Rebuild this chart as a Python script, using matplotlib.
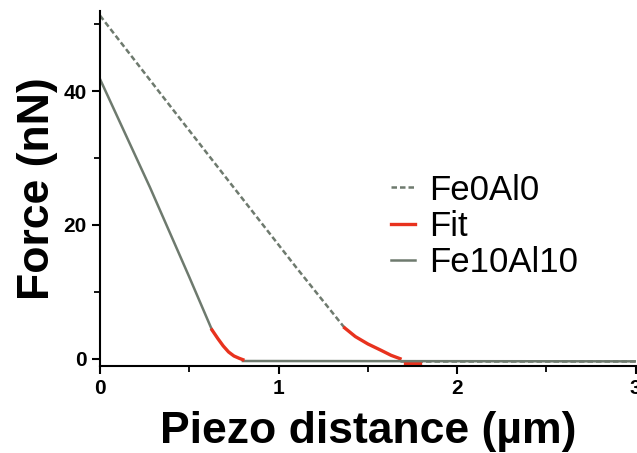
import matplotlib
matplotlib.use('Agg')
import matplotlib.pyplot as plt
from matplotlib.ticker import MultipleLocator

# Fe0Al0 approach curve (dashed), before contact fit
fe0_x = [0.0, 0.36, 0.728, 1.10, 1.37]
fe0_y = [51.3, 38.9, 26.3, 13.6, 4.6]
fe0_base_x = [1.68, 3.0]
fe0_base_y = [-0.4, -0.4]

# Fe10Al10 approach curve (solid)
fe10_x = [0.0, 0.28, 0.50, 0.627]
fe10_y = [41.8, 25.6, 12.2, 4.3]
fe10_base_x = [0.80, 3.0]
fe10_base_y = [-0.35, -0.4]

# Hertz fits
fit0_x = [1.37, 1.43, 1.50, 1.57, 1.63, 1.68]
fit0_y = [4.6, 3.3, 2.2, 1.3, 0.5, 0.0]
fit0_tail_x = [1.71, 1.79]
fit0_tail_y = [-0.7, -0.7]
fit10_x = [0.627, 0.66, 0.69, 0.72, 0.75, 0.78, 0.80]
fit10_y = [4.3, 3.0, 1.9, 1.0, 0.4, 0.05, -0.15]

grey = '#6e7a6e'
red = '#e8321e'

def main():
  plt.rcParams['font.family'] = ['Liberation Sans', 'DejaVu Sans']
  fig = plt.figure(figsize=(6.37, 4.53), dpi=100)
  ax = fig.add_axes([0.157, 0.192, 0.841, 0.784])

  dash = (0, (2.2, 1.2))
  ax.plot(fe0_x, fe0_y, color=grey, lw=1.8, ls=dash, label='Fe0Al0')
  ax.plot(fe0_base_x, fe0_base_y, color=grey, lw=1.8, ls=dash)
  ax.plot(fit0_x, fit0_y, color=red, lw=2.4, label='Fit')
  ax.plot(fit0_tail_x, fit0_tail_y, color=red, lw=2.4)
  ax.plot(fe10_x, fe10_y, color=grey, lw=1.8, label='Fe10Al10')
  ax.plot(fe10_base_x, fe10_base_y, color=grey, lw=1.8)
  ax.plot(fit10_x, fit10_y, color=red, lw=2.4)

  ax.set_xlim(0, 3)
  ax.set_ylim(-1.1, 52)
  ax.xaxis.set_major_locator(MultipleLocator(1))
  ax.xaxis.set_minor_locator(MultipleLocator(0.5))
  ax.yaxis.set_major_locator(MultipleLocator(20))
  ax.yaxis.set_minor_locator(MultipleLocator(10))

  for s in ['top', 'right']:
    ax.spines[s].set_visible(False)
  for s in ['left', 'bottom']:
    ax.spines[s].set_linewidth(1.5)
  ax.tick_params(which='major', direction='out', length=6, width=1.5, labelsize=15)
  ax.tick_params(which='minor', direction='out', length=4, width=1.3)
  for lab in ax.get_xticklabels() + ax.get_yticklabels():
    lab.set_fontweight('bold')

  ax.set_xlabel('Piezo distance (\u00b5m)', fontsize=32, fontweight='bold', labelpad=9)
  ax.set_ylabel('Force (nN)', fontsize=32, fontweight='bold', labelpad=4)

  ax.legend(loc='upper left', bbox_to_anchor=(0.485, 0.63), frameon=False,
            fontsize=25, handlelength=0.7, handletextpad=0.4, labelspacing=0.1)

  fig.savefig('out.png', dpi=100)

if __name__ == '__main__':
  main()
